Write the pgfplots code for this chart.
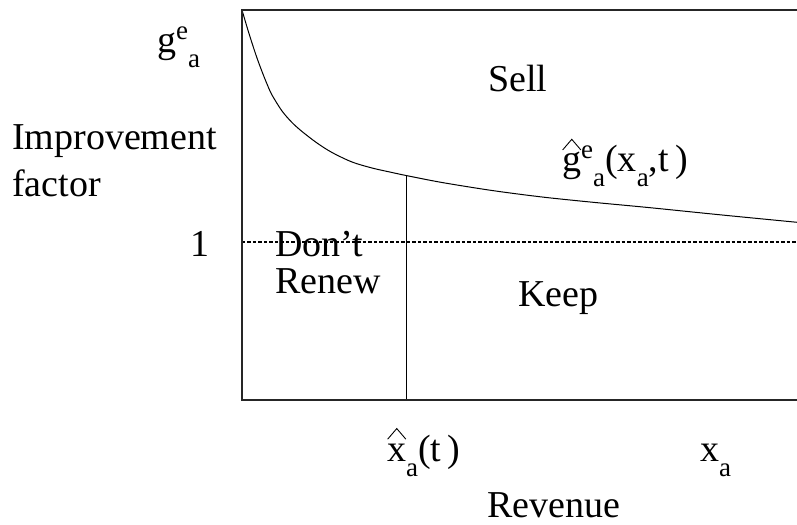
\documentclass[border=0pt]{standalone}
\usepackage{pgfplots}
\pgfplotsset{compat=1.18}
\usepackage{fontspec}
\setmainfont{Liberation Serif}

% raised / lowered small letters, as in the reference
\newcommand\up[1]{\raisebox{0.36em}{\fontsize{27bp}{30bp}\selectfont #1}}
\newcommand\dn[1]{\raisebox{-0.38em}{\fontsize{27bp}{30bp}\selectfont #1}}
\newcommand\hatted[2]{\makebox[0pt][l]{\tikz[baseline=0pt]\draw[line width=0.9bp,line join=miter] (-0.02em,#2) -- (0.22em,#2+0.28em) -- (0.46em,#2);}#1}

\begin{document}
\begin{tikzpicture}
\fontsize{38bp}{45bp}\selectfont
\begin{axis}[scale only axis,width=555bp,height=390bp,
  xmin=0,xmax=555,ymin=0,ymax=390,hide axis,clip=false]
% improvement factor curve
\addplot[black,line width=1bp,smooth] coordinates {
 (0,390)(5,373)(10,357)(15,342)(20,328.5)(25,316)(30,305)(40,289)(50,277.5)
 (60,268.5)(75,257)(90,247.5)(110,238)(130,232)(150,227.5)(165,224.3)
 (200,217.5)(250,209.5)(300,203)(350,197.8)(406,192.5)(480,185)(555,177.7)};
% level 1
\addplot[black,line width=1.2bp,dash pattern=on 3.5bp off 2bp] coordinates {(0,158)(555,158)};
% threshold revenue
\addplot[black,line width=1bp] coordinates {(165,0)(165,224.3)};
\draw[line width=1.3bp,black!85] (axis cs:555,390) -- (axis cs:0,390) -- (axis cs:0,0) -- (axis cs:555,0);

\node[anchor=base west,inner sep=0] at (axis cs:-85,347) {g\up{e}\dn{a}};
\node[anchor=base west,inner sep=0] at (axis cs:-230,250) {Improvement};
\node[anchor=base west,inner sep=0] at (axis cs:-230,203) {factor};
\node[anchor=base west,inner sep=0] at (axis cs:-52,143) {1};
\node[anchor=base west,inner sep=0] at (axis cs:33,143) {Don’t};
\node[anchor=base west,inner sep=0] at (axis cs:33,106) {Renew};
\node[anchor=base west,inner sep=0] at (axis cs:246,308) {Sell};
\node[anchor=base west,inner sep=0] at (axis cs:276,93) {Keep};
\node[anchor=base west,inner sep=0] at (axis cs:320,228) {\hatted{g}{0.58em}\up{e}\dn{a}(x\dn{a},t\,)};
\node[anchor=base west,inner sep=0] at (axis cs:145,-62) {\hatted{x}{0.6em}\dn{a}(t\,)};
\node[anchor=base west,inner sep=0] at (axis cs:458,-62) {x\dn{a}};
\node[anchor=base west,inner sep=0] at (axis cs:245,-118) {Revenue};

\coordinate (bl) at (axis cs:-242,-125);
\coordinate (tr) at (axis cs:555,400);
\end{axis}
\pgfresetboundingbox
\useasboundingbox (bl) rectangle (tr);
\end{tikzpicture}
\end{document}
